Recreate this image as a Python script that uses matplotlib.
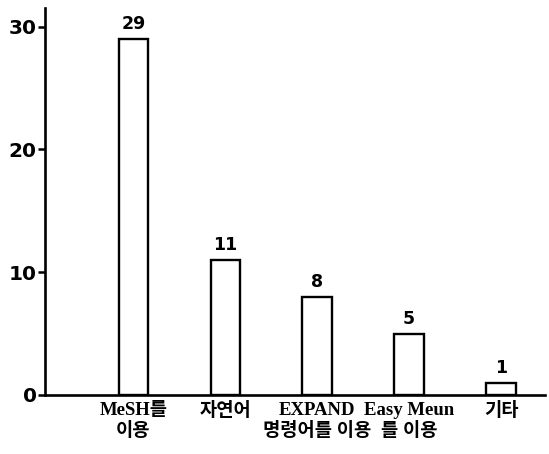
import matplotlib
matplotlib.use("Agg")
import matplotlib.pyplot as plt

# 데이터
categories = ["MeSH를\n이용", "자연어", "EXPAND\n명령어를 이용", "Easy Meun\n를 이용", "기타"]
counts = [29, 11, 8, 5, 1]
y_ticks = [0, 10, 20, 30]

label_font = ["Liberation Serif", "Noto Sans CJK KR"]

fig = plt.figure(figsize=(5.49, 4.54), dpi=100)
ax = fig.add_axes([0.082, 0.130, 0.911, 0.852])

x = list(range(len(categories)))
ax.bar(x, counts, width=0.32, facecolor="white", edgecolor="black", linewidth=1.7)

# 막대 위 값 표시
for xi, v in zip(x, counts):
    ax.text(xi, v + 0.45, str(v), ha="center", va="bottom",
            fontsize=12.5, fontweight="bold", family="DejaVu Sans")

ax.set_xlim(-0.96, 4.48)
ax.set_ylim(0, 31.5)
ax.set_yticks(y_ticks)
ax.set_yticklabels([str(t) for t in y_ticks], fontsize=14.5, fontweight="bold",
                   family="DejaVu Sans")
ax.set_xticks(x)
ax.set_xticklabels(categories, family=label_font, fontsize=13.5,
                   fontweight="bold", linespacing=1.25)

ax.tick_params(axis="x", length=0, pad=5)
ax.tick_params(axis="y", direction="out", length=5, width=1.8, pad=1)

for s in ["top", "right"]:
    ax.spines[s].set_visible(False)
ax.spines["left"].set_linewidth(1.9)
ax.spines["bottom"].set_linewidth(1.9)

fig.savefig("out.png", dpi=100)
